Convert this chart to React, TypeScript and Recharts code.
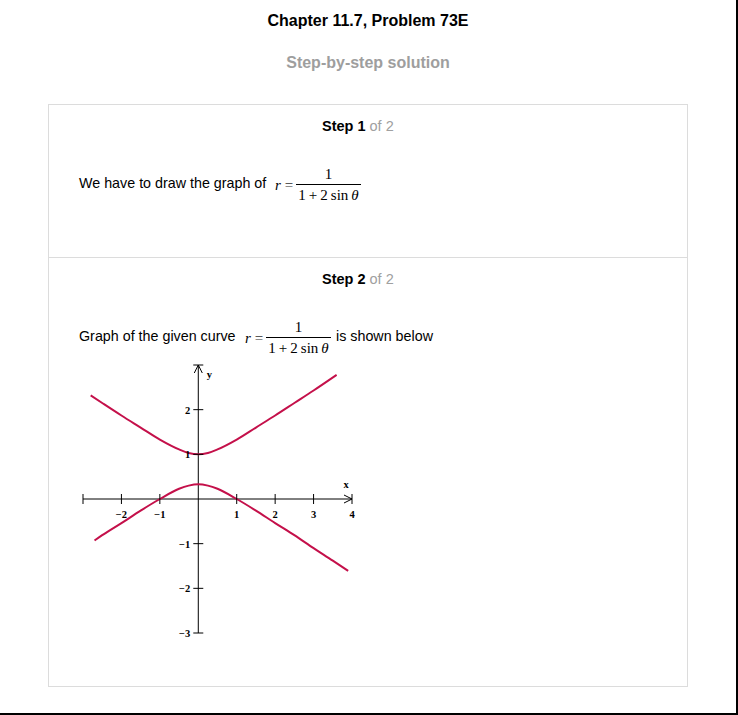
import React from "react";
import { LineChart, Line, XAxis, YAxis, ReferenceLine, ReferenceDot } from "recharts";

// points (upper and lower branch)
const upperX = [-2.8, -2.5, -2, -1.5, -1, -0.5, -0.25, 0, 0.25, 0.5, 1, 1.5, 2, 2.5, 3, 3.6];
const upperY = [2.32, 2.15, 1.87, 1.6, 1.33, 1.11, 1.03, 1.0, 1.03, 1.11, 1.33, 1.6, 1.87, 2.15, 2.43, 2.78];
const lowerX = [-2.7, -2.5, -2, -1.5, -1, -0.5, -0.25, 0, 0.25, 0.5, 1, 1.5, 2, 2.5, 3, 3.5, 3.9];
const lowerY = [-0.93, -0.81, -0.54, -0.26, 0, 0.23, 0.3, 0.33, 0.3, 0.23, 0, -0.26, -0.54, -0.81, -1.1, -1.38, -1.61];

const xTicks = [-3, -2, -1, 1, 2, 3, 4];
const xTickLabels = ["", "\u22122", "\u22121", "1", "2", "3", "4"];
const yTicks = [-3, -2, -1, 1, 2, 3];
const yTickLabels = ["\u22123", "\u22122", "\u22121", "1", "2", ""];

const upper = upperX.map((x, i) => ({ x, y: upperY[i] }));
const lower = lowerX.map((x, i) => ({ x, y: lowerY[i] }));

const CURVE = "#c4104a";
const sans = '"Liberation Sans", Arial, sans-serif';
const serif = '"Liberation Serif", "Times New Roman", serif';
const tickFont = { fontFamily: serif, fontWeight: 700, fontSize: 10.5 } as const;
const BODY = 14.3;

function Formula({ left, top }: { left: number; top: number }) {
    return (
        <div style={{ position: "absolute", left, top, display: "flex", alignItems: "center", fontFamily: serif, fontSize: 15, color: "#000" }}>
            <span style={{ fontStyle: "italic" }}>r</span>
            <span style={{ margin: "0 3px 0 4px", color: "#333" }}>=</span>
            <div style={{ display: "inline-flex", flexDirection: "column", alignItems: "center" }}>
                <span style={{ lineHeight: "19px" }}>1</span>
                <span style={{ borderTop: "1px solid #000", padding: "0 2px", lineHeight: "20px", whiteSpace: "nowrap" }}>
                    1{"\u2009"}+{"\u2009"}2{"\u2009"}sin{"\u2009"}<i>θ</i>
                </span>
            </div>
        </div>
    );
}

function Graph() {
    return (
        <LineChart width={320} height={310} margin={{ top: 20, left: 20, right: 31, bottom: 22 }}>
            <XAxis type="number" dataKey="x" domain={[-3, 4]} hide allowDataOverflow />
            <YAxis type="number" domain={[-3, 3]} hide allowDataOverflow />
            <ReferenceLine y={0} stroke="#000" strokeWidth={1} />
            <ReferenceLine x={0} stroke="#000" strokeWidth={1} />
            {xTicks.map((t, i) => (
                <ReferenceDot
                    key={"xt" + t}
                    x={t}
                    y={0}
                    ifOverflow="visible"
                    shape={(p: any) => (
                        <g>
                            <line x1={p.cx} y1={p.cy - 5} x2={p.cx} y2={p.cy + 5} stroke="#000" />
                            {t === 4 && (
                                <path d={`M${p.cx - 8},${p.cy - 4} L${p.cx},${p.cy} L${p.cx - 8},${p.cy + 4}`} fill="none" stroke="#000" />
                            )}
                            <text x={p.cx} y={p.cy + 19} textAnchor="middle" {...tickFont}>{xTickLabels[i]}</text>
                            {t === 4 && <text x={p.cx - 6} y={p.cy - 11} textAnchor="middle" {...tickFont}>x</text>}
                        </g>
                    )}
                />
            ))}
            {yTicks.map((t, i) => (
                <ReferenceDot
                    key={"yt" + t}
                    x={0}
                    y={t}
                    ifOverflow="visible"
                    shape={(p: any) => (
                        <g>
                            <line x1={p.cx - 5} y1={p.cy} x2={p.cx + 5} y2={p.cy} stroke="#000" />
                            {t === 3 && (
                                <path d={`M${p.cx - 4},${p.cy + 8} L${p.cx},${p.cy} L${p.cx + 4},${p.cy + 8}`} fill="none" stroke="#000" />
                            )}
                            <text x={p.cx - 8} y={p.cy + 4} textAnchor="end" {...tickFont}>{yTickLabels[i]}</text>
                            {t === 3 && <text x={p.cx + 11} y={p.cy + 13} textAnchor="middle" {...tickFont}>y</text>}
                        </g>
                    )}
                />
            ))}
            <Line data={upper} dataKey="y" type="monotone" stroke={CURVE} strokeWidth={2} dot={false} isAnimationActive={false} />
            <Line data={lower} dataKey="y" type="monotone" stroke={CURVE} strokeWidth={2} dot={false} isAnimationActive={false} />
        </LineChart>
    );
}

export default function App() {
    return (
        <div style={{ position: "absolute", left: 0, top: 0, width: 736, height: 713, borderRight: "2px solid #000", borderBottom: "2px solid #000", background: "#fff", fontFamily: sans, color: "#000" }}>
            <div style={{ position: "absolute", left: 0, top: 12, width: 736, textAlign: "center", fontWeight: 700, fontSize: 16, lineHeight: "18px" }}>
                Chapter 11.7, Problem 73E
            </div>
            <div style={{ position: "absolute", left: 0, top: 54, width: 736, textAlign: "center", fontWeight: 700, fontSize: 16, lineHeight: "18px", color: "#9e9e9e" }}>
                Step-by-step solution
            </div>
            <div style={{ position: "absolute", left: 48, top: 104, width: 640, height: 583, boxSizing: "border-box", border: "1px solid #dcdcdc" }}>
                <div style={{ position: "absolute", left: 0, right: 0, top: 152, borderTop: "1px solid #dcdcdc" }} />
            </div>
            <div style={{ position: "absolute", left: 322, top: 118, fontSize: 14.5, lineHeight: "16px", whiteSpace: "nowrap" }}>
                <b>Step 1</b> <span style={{ color: "#a0a0a0" }}>of 2</span>
            </div>
            <div style={{ position: "absolute", left: 79, top: 175, fontSize: BODY, lineHeight: "16px", whiteSpace: "nowrap" }}>
                We have to draw the graph of
            </div>
            <Formula left={275} top={165} />
            <div style={{ position: "absolute", left: 322, top: 271, fontSize: 14.5, lineHeight: "16px", whiteSpace: "nowrap" }}>
                <b>Step 2</b> <span style={{ color: "#a0a0a0" }}>of 2</span>
            </div>
            <div style={{ position: "absolute", left: 79, top: 328, fontSize: BODY, lineHeight: "16px", whiteSpace: "nowrap" }}>
                Graph of the given curve
            </div>
            <Formula left={245} top={318} />
            <div style={{ position: "absolute", left: 336, top: 328, fontSize: BODY, lineHeight: "16px", whiteSpace: "nowrap" }}>
                is shown below
            </div>
            <div style={{ position: "absolute", left: 63, top: 345 }}>
                <Graph />
            </div>
        </div>
    );
}
